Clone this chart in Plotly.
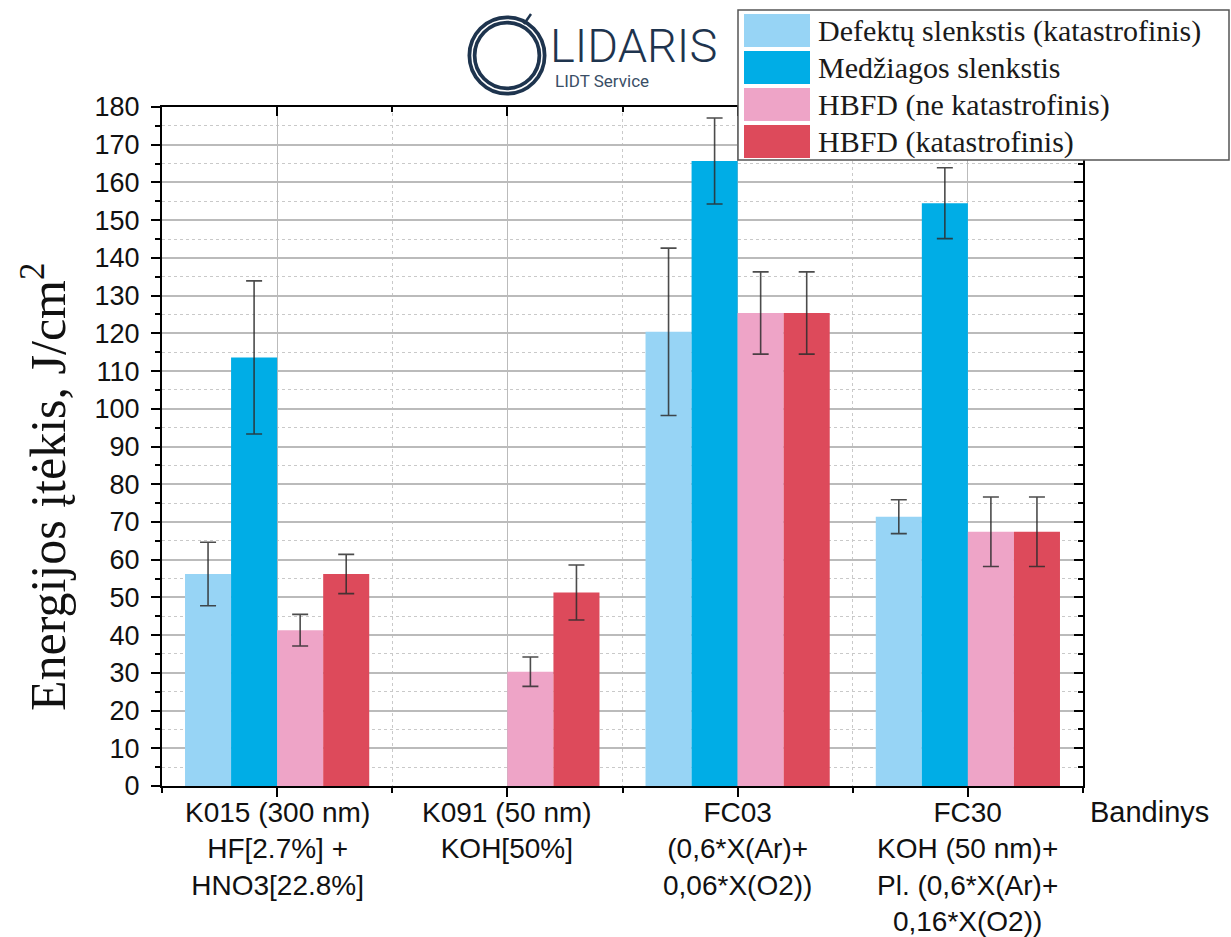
import plotly.graph_objects as go

# ---- data -------------------------------------------------------------
sample_labels = [
    "K015 (300 nm)<br>HF[2.7%] +<br>HNO3[22.8%]",
    "K091 (50 nm)<br>KOH[50%]",
    "FC03<br>(0,6*X(Ar)+<br>0,06*X(O2))",
    "FC30<br>KOH (50 nm)+<br>Pl. (0,6*X(Ar)+<br>0,16*X(O2))",
]
sample_pos = [0, 1, 2, 3]

series_names = [
    "Defektų slenkstis (katastrofinis)",
    "Medžiagos slenkstis",
    "HBFD (ne katastrofinis)",
    "HBFD (katastrofinis)",
]
defect_thr = [56.2, None, 120.4, 71.4]
defect_err = [8.4, None, 22.2, 4.5]
material_thr = [113.6, None, 165.7, 154.5]
material_err = [20.3, None, 11.4, 9.4]
hbfd_noncat = [41.3, 30.3, 125.4, 67.4]
hbfd_noncat_err = [4.2, 3.9, 10.9, 9.2]
hbfd_cat = [56.2, 51.3, 125.4, 67.4]
hbfd_cat_err = [5.2, 7.3, 10.9, 9.2]

y_ticks = list(range(0, 181, 10))

# ---- styling ------------------------------------------------------------
colors = ["#97D4F5", "#00ADE6", "#EEA4C7", "#DD4A5B"]
values = [defect_thr, material_thr, hbfd_noncat, hbfd_cat]
errors = [defect_err, material_err, hbfd_noncat_err, hbfd_cat_err]

W, H = 1231, 937
L, R, T, B = 162, 1083, 107, 786


def px(x):
    return (x - L) / (R - L)


def py(y):
    return (B - y) / (B - T)


fig = go.Figure()
for name, vals, errs, col in zip(series_names, values, errors, colors):
    fig.add_trace(go.Bar(
        x=sample_pos, y=vals, name=name,
        marker=dict(color=col, line=dict(width=0)),
        error_y=dict(type="data", array=errs, visible=True,
                     color="rgba(45,45,45,0.85)", thickness=1.6, width=8),
        showlegend=False,
    ))

# invisible trace carrying the mirrored top/right axes
fig.add_trace(go.Scatter(x=[None], y=[None], xaxis="x2", yaxis="y2",
                         showlegend=False, hoverinfo="skip"))

tick_font = dict(family="Liberation Sans, Arial", size=27, color="#111")
grid_major = "#BBBBBB"
grid_minor = "#C9C9C9"
minor_x = [-0.5, 0.5, 1.5, 2.5, 3.5]

fig.update_layout(
    width=W, height=H,
    margin=dict(l=L, r=W - R, t=T, b=H - B, pad=0, autoexpand=False),
    paper_bgcolor="white", plot_bgcolor="white",
    barmode="group", bargap=0.2, bargroupgap=0,
    xaxis=dict(
        range=[-0.5, 3.5], tickmode="array", tickvals=sample_pos,
        showticklabels=False,
        ticks="outside", ticklen=9, tickwidth=2, tickcolor="black",
        showline=True, linewidth=2, linecolor="black",
        showgrid=True, gridcolor=grid_major, gridwidth=1.2,
        zeroline=False, automargin=False,
        minor=dict(tickmode="array", tickvals=minor_x,
                   ticks="outside", ticklen=5, tickwidth=2, tickcolor="black",
                   showgrid=True, gridcolor=grid_minor, griddash="dot", gridwidth=1),
    ),
    yaxis=dict(
        range=[0, 180], tickmode="array", tickvals=y_ticks,
        tickfont=tick_font, ticklabelstandoff=6,
        ticks="outside", ticklen=9, tickwidth=2, tickcolor="black",
        showline=True, linewidth=2, linecolor="black",
        showgrid=True, gridcolor=grid_major, gridwidth=1.5,
        zeroline=False, automargin=False,
        minor=dict(dtick=5, ticks="outside", ticklen=5, tickwidth=2, tickcolor="black",
                   showgrid=True, gridcolor=grid_minor, griddash="dot", gridwidth=1),
    ),
    xaxis2=dict(
        overlaying="x", side="top", anchor="y2", range=[-0.5, 3.5],
        tickmode="array", tickvals=sample_pos, showticklabels=False,
        ticks="inside", ticklen=9, tickwidth=2, tickcolor="black",
        showline=True, linewidth=2, linecolor="black",
        showgrid=False, zeroline=False, automargin=False,
        minor=dict(tickmode="array", tickvals=minor_x,
                   ticks="inside", ticklen=5, tickwidth=2, tickcolor="black"),
    ),
    yaxis2=dict(
        overlaying="y", side="right", anchor="x2", range=[0, 180],
        tickmode="array", tickvals=y_ticks, showticklabels=False,
        ticks="inside", ticklen=9, tickwidth=2, tickcolor="black",
        showline=True, linewidth=2, linecolor="black",
        showgrid=False, zeroline=False, automargin=False,
        minor=dict(dtick=5, ticks="inside", ticklen=5, tickwidth=2, tickcolor="black"),
    ),
)

annotations = []
shapes = []

# category labels under the x axis
for pos, lab in zip(sample_pos, sample_labels):
    annotations.append(dict(
        xref="x", yref="paper", x=pos, y=py(795), text=lab,
        showarrow=False, xanchor="center", yanchor="top", align="center",
        font=dict(family="Liberation Sans, Arial", size=28, color="#111"),
    ))

# y-axis title
annotations.append(dict(
    xref="paper", yref="paper", x=px(44), y=py(487), textangle=-90,
    text="Energijos įtėkis, J/cm<sup>2</sup>", showarrow=False,
    font=dict(family="Liberation Serif, Times New Roman", size=50, color="#111"),
    xanchor="center", yanchor="middle",
))

# x-axis title
annotations.append(dict(
    xref="paper", yref="paper", x=px(1088), y=py(812), text="Bandinys",
    showarrow=False, xanchor="left", yanchor="middle",
    font=dict(family="Liberation Sans, Arial", size=29, color="#111"),
))

# legend box with swatches
shapes.append(dict(type="rect", xref="paper", yref="paper",
                   x0=px(738), x1=px(1229), y0=py(160), y1=py(10),
                   line=dict(color="#555", width=1.5), fillcolor="white", layer="above"))
row_tops = [14, 51, 88, 125]
for name, col, top in zip(series_names, colors, row_tops):
    shapes.append(dict(type="rect", xref="paper", yref="paper",
                       x0=px(744), x1=px(810), y0=py(top + 33), y1=py(top),
                       line=dict(width=0), fillcolor=col, layer="above"))
    annotations.append(dict(
        xref="paper", yref="paper", x=px(816), y=py(top + 17), text=name,
        showarrow=False, xanchor="left", yanchor="middle",
        font=dict(family="Liberation Serif, Times New Roman", size=30, color="#1a1a1a"),
    ))

# LIDARIS logo
navy = "#1E344E"
shapes.append(dict(type="circle", xref="paper", yref="paper",
                   x0=px(472), x1=px(542), y0=py(91), y1=py(20),
                   line=dict(color=navy, width=9), layer="above"))
shapes.append(dict(type="circle", xref="paper", yref="paper",
                   x0=px(472), x1=px(542), y0=py(91), y1=py(20),
                   line=dict(color="white", width=1.5), layer="above"))
shapes.append(dict(type="line", xref="paper", yref="paper",
                   x0=px(524), x1=px(531), y0=py(24), y1=py(14),
                   line=dict(color=navy, width=2.5), layer="above"))
annotations.append(dict(
    xref="paper", yref="paper", x=px(548), y=py(45), text="LIDARIS",
    showarrow=False, xanchor="left", yanchor="middle",
    font=dict(family="Roboto, Liberation Sans", size=47, color=navy, weight=300),
))
annotations.append(dict(
    xref="paper", yref="paper", x=px(553), y=py(81), text="LIDT Service",
    showarrow=False, xanchor="left", yanchor="middle",
    font=dict(family="Roboto, Liberation Sans", size=17, color="#3A4E66"),
))

fig.update_layout(annotations=annotations, shapes=shapes)
fig.write_html("out.html")
